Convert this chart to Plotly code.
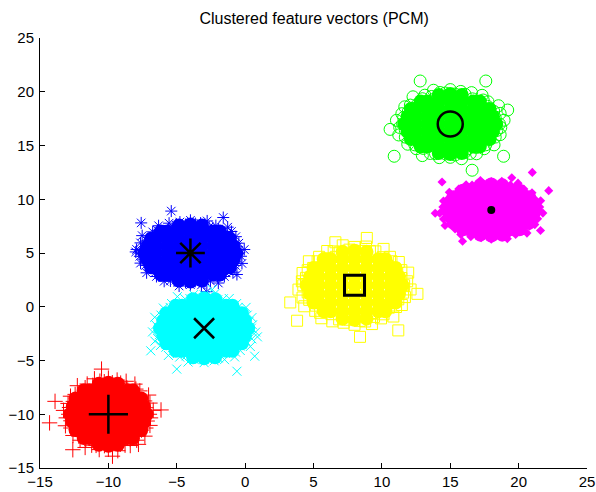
import plotly.graph_objects as go

# ---- cluster data (feature space) ----
cluster_names = ["Cluster 1", "Cluster 2", "Cluster 3", "Cluster 4", "Cluster 5", "Cluster 6"]
center_x = [-10, -4, -3, 8, 15, 18]
center_y = [-10, 5, -2, 2, 17, 9]
spread_x = [1.0, 1.2, 1.15, 1.25, 1.2, 1.15]
spread_y = [1.05, 0.95, 1.0, 1.15, 1.0, 0.85]
flip_x = [1, -1, 1, -1, 1, -1]
flip_y = [1, 1, -1, -1, 1, -1]

# dense core of each cloud (offsets in std units)
core_dx = [-0.7, 0.0, 0.7,
           -1.8, -1.4, -0.7, 0.0, 0.7, 1.4, 1.8,
           -2.4, -2.1, -1.4, -0.7, 0.0, 0.7, 1.4, 2.1, 2.4,
           -2.6, -2.1, -1.4, -0.7, 0.0, 0.7, 1.4, 2.1, 2.6,
           -2.8, -2.1, -1.4, -0.7, 0.0, 0.7, 1.4, 2.1, 2.8,
           -2.6, -2.1, -1.4, -0.7, 0.0, 0.7, 1.4, 2.1, 2.6,
           -2.4, -2.1, -1.4, -0.7, 0.0, 0.7, 1.4, 2.1, 2.4,
           -1.8, -1.4, -0.7, 0.0, 0.7, 1.4, 1.8,
           -0.7, 0.0, 0.7]
core_dy = [-2.7, -2.8, -2.7,
           -2.1, -2.1, -2.1, -2.1, -2.1, -2.1, -2.1,
           -1.4, -1.4, -1.4, -1.4, -1.4, -1.4, -1.4, -1.4, -1.4,
           -0.7, -0.7, -0.7, -0.7, -0.7, -0.7, -0.7, -0.7, -0.7,
           0.0, 0.0, 0.0, 0.0, 0.0, 0.0, 0.0, 0.0, 0.0,
           0.7, 0.7, 0.7, 0.7, 0.7, 0.7, 0.7, 0.7, 0.7,
           1.4, 1.4, 1.4, 1.4, 1.4, 1.4, 1.4, 1.4, 1.4,
           2.1, 2.1, 2.1, 2.1, 2.1, 2.1, 2.1,
           2.7, 2.8, 2.7]

# scattered samples around the rim of each cloud
rim_dx = [3.00, 3.28, 2.74, 3.04, 2.65, 2.94, 2.27, 2.30, 2.01, 1.94, 1.35, 1.30, 0.90, 0.64, 0.29,
          0.00, -0.30, -0.62, -1.02, -1.14, -1.55, -1.70, -2.27, -2.01, -2.43, -2.77, -2.56, -2.95, -2.84, -3.28,
          -2.90, -3.08, -2.74, -3.14, -2.74, -2.34, -2.59, -2.16, -2.07, -1.65, -1.70, -1.22, -0.90, -0.67, -0.29,
          0.00, 0.30, 0.69, 0.87, 1.22, 1.60, 1.59, 2.07, 2.16, 2.67, 2.42, 2.74, 3.04, 2.84, 3.08,
          2.5, 1.8, 0.6, -1.0, -2.2, -2.5, -1.9, -0.5, 1.1, 2.2, 2.4, -1.5]
rim_dy = [0.00, 0.35, 0.58, 0.99, 1.18, 1.70, 1.65, 2.07, 2.23, 2.67, 2.34, 2.92, 2.76, 3.03, 2.79,
          3.20, 2.88, 2.93, 3.14, 2.56, 2.68, 2.35, 2.53, 1.81, 1.76, 1.60, 1.14, 0.96, 0.60, 0.34,
          0.00, -0.32, -0.58, -1.02, -1.22, -1.35, -1.88, -1.94, -2.30, -2.27, -2.94, -2.74, -2.76, -3.13, -2.78,
          -3.10, -2.88, -3.23, -2.66, -2.74, -2.77, -2.18, -2.30, -1.94, -1.94, -1.40, -1.22, -0.99, -0.60, -0.32,
          0.5, 1.7, 2.5, 2.3, 1.2, -0.3, -1.6, -2.5, -2.3, -1.2, 1.0, 2.0]

# isolated samples far from each centre
outlier_x = [[-6.15, -14.3, -13.9, -10.5, -12.6, -7.8, -9.7],
             [-8.0, -1.6, -1.0, -7.6, -5.4, -0.6, -2.8],
             [0.9, -6.9, -6.6, 0.7, -5.0, -0.6, -2.4],
             [8.9, 3.3, 12.6, 6.6, 11.2, 3.8, 8.4],
             [19.2, 10.6, 17.6, 10.9, 12.8, 18.9, 16.6],
             [22.2, 21.0, 13.9, 14.4, 21.6, 15.9, 19.5]]
outlier_y = [[-9.6, -10.8, -8.8, -5.8, -13.3, -12.8, -13.9],
             [5.1, 8.3, 7.0, 7.8, 8.9, 3.0, 1.4],
             [-2.8, -4.1, -3.2, -4.6, -5.8, -6.0, 1.6],
             [6.4, 0.4, 1.2, 6.0, -2.2, -1.3, -2.8],
             [18.3, 16.5, 21.0, 14.0, 21.0, 14.0, 12.7],
             [10.8, 12.5, 8.7, 11.6, 7.1, 6.1, 12.0]]

colors = ["#FF0000", "#0000FF", "#00FFFF", "#FFFF00", "#00FF00", "#FF00FF"]
cloud_symbols = ["cross-thin-open", "asterisk-open", "x-thin-open",
                 "square-open", "circle-open", "diamond"]
cloud_sizes = [11, 10, 9, 11, 12, 7]
center_symbols = ["cross-thin-open", "asterisk-open", "x-thin-open",
                  "square-open", "circle-open", "circle"]
center_sizes = [28, 24, 20, 20, 25, 8]
center_widths = [2.5, 2.5, 2.5, 3, 2.5, 0]

fig = go.Figure()

for k in range(6):
    cx, cy = center_x[k], center_y[k]
    sx, sy = spread_x[k] * flip_x[k], spread_y[k] * flip_y[k]
    # solid core
    fig.add_trace(go.Scatter(
        x=[cx + sx * d for d in core_dx],
        y=[cy + sy * d for d in core_dy],
        mode="markers", hoverinfo="skip", showlegend=False,
        marker=dict(symbol="circle", size=14, color=colors[k], line=dict(width=0)),
    ))
    # rim and outliers with the cluster's own symbol
    xs = [cx + sx * d for d in rim_dx] + outlier_x[k]
    ys = [cy + sy * d for d in rim_dy] + outlier_y[k]
    line_w = 0 if k == 5 else 1
    fig.add_trace(go.Scatter(
        x=xs, y=ys, mode="markers", name=cluster_names[k], showlegend=False,
        marker=dict(symbol=cloud_symbols[k], size=cloud_sizes[k], color=colors[k],
                    line=dict(width=line_w, color=colors[k])),
    ))

# cluster prototypes
for k in range(6):
    fig.add_trace(go.Scatter(
        x=[center_x[k]], y=[center_y[k]], mode="markers", showlegend=False,
        marker=dict(symbol=center_symbols[k], size=center_sizes[k], color="black",
                    line=dict(width=center_widths[k], color="black")),
    ))

axis_style = dict(
    range=[-15, 25], tickvals=[-15, -10, -5, 0, 5, 10, 15, 20, 25],
    showline=True, linecolor="black", linewidth=1, mirror=False,
    ticks="inside", ticklen=5, tickcolor="black", showgrid=False, zeroline=False,
    automargin=False,
    tickfont=dict(family="Liberation Sans, Arial", size=15, color="black"),
)

fig.update_layout(
    width=596, height=492,
    margin=dict(l=40, r=9, t=38, b=24),
    paper_bgcolor="white", plot_bgcolor="white",
    title=dict(text="Clustered feature vectors (PCM)", x=0.527, xanchor="center",
               y=0.963, yanchor="middle", automargin=False,
               font=dict(family="Liberation Sans, Arial", size=16, color="black")),
    xaxis=dict(axis_style, ticklabelstandoff=0),
    yaxis=dict(axis_style, ticklabelstandoff=2),
)

fig.write_html("out.html")
